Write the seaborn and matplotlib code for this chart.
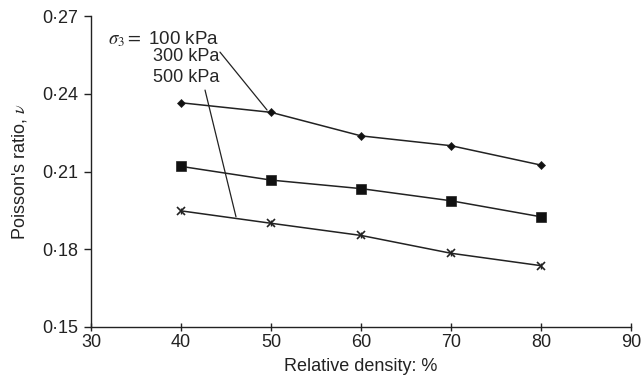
import matplotlib
matplotlib.use("Agg")
import matplotlib.pyplot as plt
import seaborn as sns
import pandas as pd
from matplotlib.ticker import FuncFormatter

density = [40, 50, 60, 70, 80]
nu_100 = [0.2366, 0.2329, 0.2238, 0.2200, 0.2125]
nu_300 = [0.2120, 0.2067, 0.2034, 0.1987, 0.1925]
nu_500 = [0.1948, 0.1900, 0.1853, 0.1784, 0.1736]
series_names = ["100 kPa", "300 kPa", "500 kPa"]
label_lines = [r"$\sigma_3 = $ 100 kPa", "300 kPa", "500 kPa"]
x_ticks = [30, 40, 50, 60, 70, 80, 90]
y_ticks = [0.15, 0.18, 0.21, 0.24, 0.27]

sns.set_style("ticks")
plt.rcParams["font.family"] = ["Liberation Sans", "DejaVu Sans"]
plt.rcParams["mathtext.fontset"] = "stix"

df = pd.DataFrame({
    "density": density * 3,
    "nu": nu_100 + nu_300 + nu_500,
    "series": [s for s in series_names for _ in density],
})

fig = plt.figure(figsize=(6.43, 3.89), dpi=100)
ax = fig.add_axes([91/643, 1-326.7/389, 540/643, (326.7-16.4)/389])

markers = {"100 kPa": "D", "300 kPa": "s", "500 kPa": "x"}
sizes = {"100 kPa": 4.5, "300 kPa": 6.5, "500 kPa": 6}
for name in series_names:
    sub = df[df["series"] == name]
    sns.lineplot(data=sub, x="density", y="nu", ax=ax, color="#222222",
                 linewidth=1.1, marker=markers[name],
                 markersize=sizes[name], markeredgecolor="#222222",
                 markerfacecolor="#111111", markeredgewidth=1.2 if name == "500 kPa" else 0.5,
                 legend=False)
    if name == "500 kPa":
        ax.plot(sub["density"], sub["nu"], linestyle="none", marker="|",
                markersize=5, color="#222222", markeredgewidth=1.0)

# annotation text and leader lines
ax.text(44.22, 0.2613, label_lines[0], ha="right", va="center", fontsize=13.5)
ax.text(44.22, 0.2544, label_lines[1], ha="right", va="center", fontsize=13)
ax.text(44.22, 0.2462, label_lines[2], ha="right", va="center", fontsize=13)
ax.plot([44.33, 49.56], [0.2562, 0.2338], color="#222222", linewidth=0.9)
ax.plot([42.67, 46.11], [0.2415, 0.1925], color="#222222", linewidth=0.9)

ax.set_xlim(30, 90)
ax.set_ylim(0.15, 0.27)
ax.set_xticks(x_ticks)
ax.set_yticks(y_ticks)
ax.yaxis.set_major_formatter(FuncFormatter(lambda v, p: f"{v:.2f}".replace(".", "\u00b7")))
ax.tick_params(axis="both", labelsize=13, width=1, colors="#222222")
ax.tick_params(axis="x", direction="inout", length=6, pad=2)
ax.tick_params(axis="y", direction="out", length=5, pad=4)
for s in ["left", "bottom"]:
    ax.spines[s].set_color("#222222")
    ax.spines[s].set_linewidth(1.0)
sns.despine(ax=ax)
ax.set_xlabel("Relative density: %", fontsize=13, color="#222222", labelpad=5)
ax.set_ylabel(r"Poisson's ratio, $\nu$", fontsize=13, color="#222222", labelpad=10)

fig.savefig("out.png", dpi=100)
